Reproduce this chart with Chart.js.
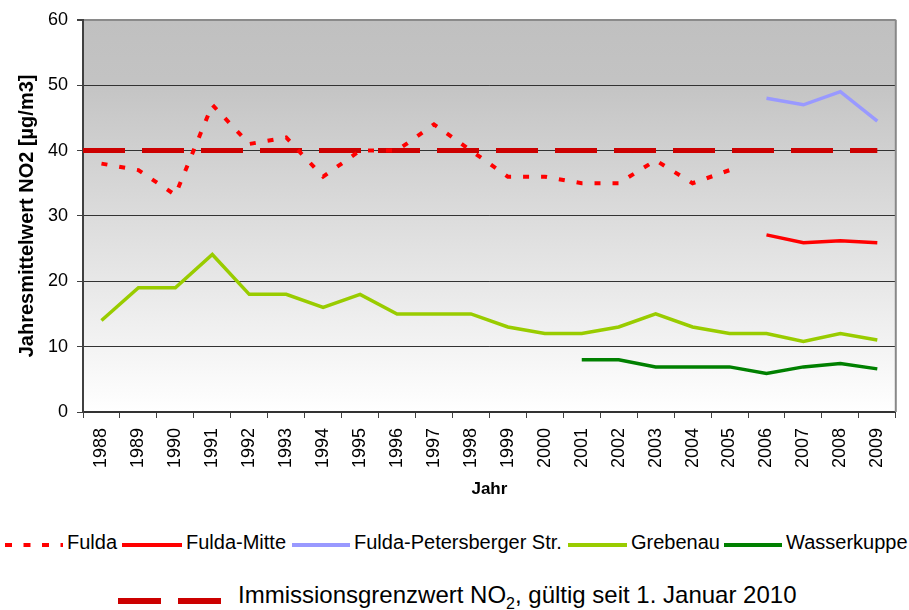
<!DOCTYPE html>
<html>
<head>
<meta charset="utf-8">
<script src="https://cdn.jsdelivr.net/npm/chart.js@4"></script>
<style>
  body { margin: 0; background: #fff; font-family: "Liberation Sans", Arial, sans-serif; }
  #wrap { position: relative; width: 909px; height: 610px; }
  #chart { position: absolute; left: 0; top: 0; }
  .lg { position: absolute; white-space: nowrap; color: #000; }
  .lg svg { display: block; }
</style>
</head>
<body>
<div id="wrap">
  <canvas id="chart" width="909" height="510"></canvas>
  <div id="legend"></div>
</div>
<script>
// Daten
const jahre = ['1988','1989','1990','1991','1992','1993','1994','1995','1996','1997','1998',
               '1999','2000','2001','2002','2003','2004','2005','2006','2007','2008','2009'];
const fulda = [38, 37, 33.2, 47, 41, 42, 36, 40, 40, 44, 40, 36, 36, 35, 35, 38.5, 35, 37,
               null, null, null, null];
const fuldaMitte = [null, null, null, null, null, null, null, null, null, null, null,
                    null, null, null, null, null, null, null, 27.1, 25.9, 26.2, 25.9];
const petersberger = [null, null, null, null, null, null, null, null, null, null, null,
                      null, null, null, null, null, null, null, 48, 47, 49, 44.5];
const grebenau = [14, 19, 19, 24.1, 18, 18, 16, 18, 15, 15, 15, 13, 12, 12, 13, 15, 13, 12,
                  12, 10.8, 12, 11];
const wasserkuppe = [null, null, null, null, null, null, null, null, null, null, null,
                     null, null, 8, 8, 6.9, 6.9, 6.9, 5.9, 6.9, 7.4, 6.6];
const grenzwert = 40;
const yTicks = [0, 10, 20, 30, 40, 50, 60];

const schrift = '"Liberation Sans", Arial, sans-serif';

// Hintergrund (Verlauf), Grenzwertlinie, Rahmen rechts
const extras = {
  id: 'extras',
  beforeDraw(chart) {
    const {ctx, chartArea: a} = chart;
    const g = ctx.createLinearGradient(0, a.top, 0, a.bottom);
    g.addColorStop(0, '#c0c0c0');
    g.addColorStop(0.15, '#c3c3c3');
    g.addColorStop(1, '#ffffff');
    ctx.save();
    ctx.fillStyle = g;
    ctx.fillRect(a.left, a.top, a.right - a.left, a.bottom - a.top);
    ctx.restore();
  },
  beforeDatasetsDraw(chart) {
    const {ctx, chartArea: a, scales} = chart;
    const y = scales.y.getPixelForValue(grenzwert);
    const xEnde = scales.x.getPixelForValue(jahre.length - 1);
    ctx.save();
    ctx.strokeStyle = '#cc0000';
    ctx.lineWidth = 5;
    ctx.setLineDash([42, 17]);
    ctx.beginPath();
    ctx.moveTo(a.left, y);
    ctx.lineTo(xEnde, y);
    ctx.stroke();
    ctx.restore();
  },
  afterDraw(chart) {
    const {ctx, chartArea: a} = chart;
    ctx.save();
    ctx.strokeStyle = '#888888';
    ctx.lineWidth = 2;
    ctx.beginPath();
    ctx.moveTo(a.right, a.top);
    ctx.lineTo(a.right, a.bottom);
    ctx.stroke();
    ctx.restore();
  }
};

const linie = (label, data, color, extra) => Object.assign({
  label: label,
  data: data,
  borderColor: color,
  backgroundColor: color,
  borderWidth: 3.5,
  pointRadius: 0,
  fill: false,
  tension: 0,
  spanGaps: false
}, extra || {});

new Chart(document.getElementById('chart'), {
  type: 'line',
  data: {
    labels: jahre,
    datasets: [
      linie('Fulda', fulda, '#ff0000', {borderDash: [6, 12], borderWidth: 4}),
      linie('Fulda-Mitte', fuldaMitte, '#ff0000'),
      linie('Fulda-Petersberger Str.', petersberger, '#9999ff'),
      linie('Grebenau', grebenau, '#99cc00'),
      linie('Wasserkuppe', wasserkuppe, '#008000')
    ]
  },
  options: {
    responsive: false,
    animation: false,
    layout: { padding: { top: 19, right: 4, left: 0, bottom: 0 } },
    plugins: { legend: { display: false }, tooltip: { enabled: false } },
    scales: {
      x: {
        offset: true,
        afterFit: s => { s.height = 98; },
        grid: { offset: true, drawOnChartArea: false, tickLength: 6, color: '#404040' },
        border: { color: '#333333', width: 2 },
        ticks: {
          minRotation: 90, maxRotation: 90, padding: 10,
          color: '#000', font: { family: schrift, size: 18 }
        },
        title: {
          display: true, text: 'Jahr', color: '#000',
          font: { family: schrift, size: 17, weight: 'bold' },
          padding: { top: 0, bottom: 10 }
        }
      },
      y: {
        min: 0, max: 60,
        afterFit: s => { s.width = 83; },
        afterBuildTicks: s => { s.ticks = yTicks.map(v => ({ value: v })); },
        grid: {
          tickLength: 6,
          tickColor: '#404040',
          color: c => c.tick && c.tick.value === 60 ? '#8a8a8a' : '#333333',
          lineWidth: c => c.tick && c.tick.value === 60 ? 2 : 1
        },
        border: { color: '#404040', width: 2 },
        ticks: { padding: 9, color: '#000', font: { family: schrift, size: 18 } },
        title: {
          display: true, text: 'Jahresmittelwert NO2 [µg/m3]', color: '#000',
          font: { family: schrift, size: 20, weight: 'bold' },
          padding: { top: 15, bottom: 0 }
        }
      }
    }
  },
  plugins: [extras]
});

// Legende
const legende = [
  { text: 'Fulda', color: '#ff0000', dash: '7 11.5', x: 5, tx: 67 },
  { text: 'Fulda-Mitte', color: '#ff0000', dash: null, x: 122, tx: 186 },
  { text: 'Fulda-Petersberger Str.', color: '#9999ff', dash: null, x: 292, tx: 354 },
  { text: 'Grebenau', color: '#99cc00', dash: null, x: 568, tx: 631 },
  { text: 'Wasserkuppe', color: '#008000', dash: null, x: 724, tx: 786 }
];
const box = document.getElementById('legend');
let html = '';
legende.forEach(l => {
  const w = l.tx - l.x - 4;
  html += '<div class="lg" style="left:' + l.x + 'px;top:541px"><svg width="' + w + '" height="8">' +
    '<line x1="0" y1="4" x2="' + w + '" y2="4" stroke="' + l.color + '" stroke-width="4"' +
    (l.dash ? ' stroke-dasharray="' + l.dash + '"' : '') + '/></svg></div>';
  html += '<div class="lg" style="left:' + l.tx + 'px;top:530px;font-size:20px;line-height:24px">' + l.text + '</div>';
});
html += '<div class="lg" style="left:118px;top:597px"><svg width="104" height="8">' +
  '<line x1="0" y1="4" x2="104" y2="4" stroke="#cc0000" stroke-width="6" stroke-dasharray="43 17"/></svg></div>';
html += '<div class="lg" style="left:238px;top:581px;font-size:24px;line-height:28px">' +
  'Immissionsgrenzwert NO<sub style="font-size:16px;line-height:0">2</sub>, gültig seit 1. Januar 2010</div>';
box.innerHTML = html;
</script>
</body>
</html>
